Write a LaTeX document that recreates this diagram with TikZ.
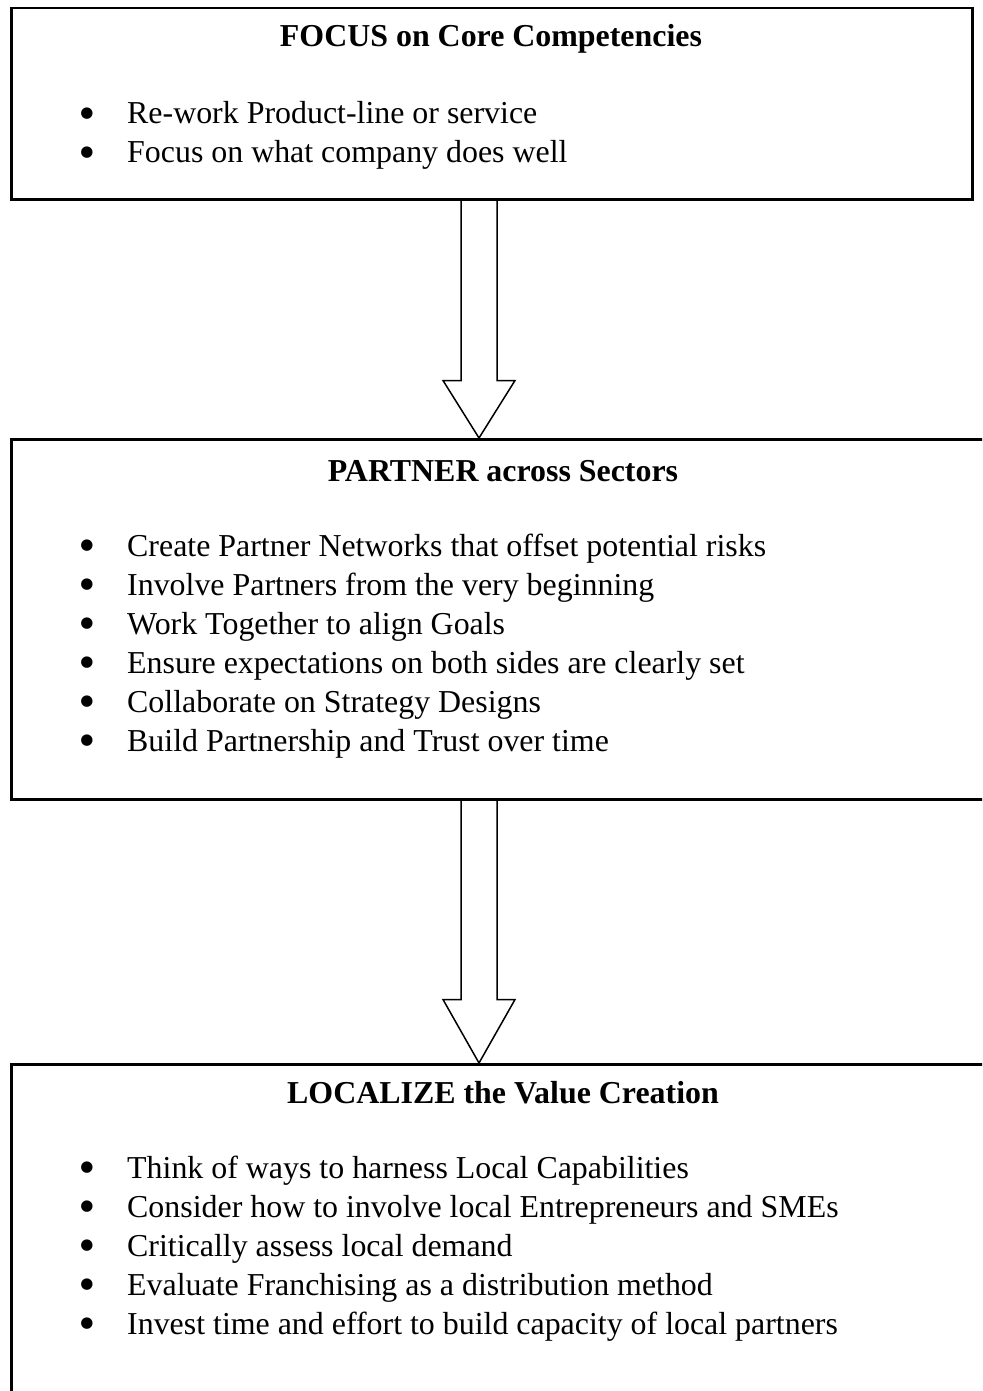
\documentclass[tikz,border=0pt]{standalone}
\usepackage{fontspec}
\setmainfont{Liberation Serif}
\newfontfamily\symfont{DejaVu Sans}
\usetikzlibrary{calc}
\begin{document}
\begin{tikzpicture}[x=1pt,y=-1pt,
  box/.style={draw, line width=2.5pt, rectangle, anchor=north west, inner sep=0pt},
  ttl/.style={anchor=base, font=\fontsize{31.9}{39}\selectfont\bfseries, inner sep=0pt},
  itm/.style={anchor=base west, font=\fontsize{31.9}{39}\selectfont, inner sep=0pt},
  bul/.style={anchor=center, font=\symfont\fontsize{15}{15}\selectfont, inner sep=0pt},
  blockarrow/.style={draw, line width=1.5pt, line join=miter}]
\useasboundingbox (0,0) rectangle (982,1391);
\clip (0,0) rectangle (982,1391);
% boxes
\node[box, minimum width=961pt, minimum height=191pt] (box1) at (10,7) {};
\node[box, minimum width=985pt, minimum height=360pt] (box2) at (10,438) {};
\node[box, minimum width=985pt, minimum height=400pt] (box3) at (10,1063) {};
\coordinate (ax) at (479,0);
% arrows
\draw[blockarrow] ($(box1.south -| ax)+(-18,0)$) -- ++(0,180) -- ++(-18,0)
  -- (box2.north -| ax) -- ($(box1.south -| ax)+(36,180)$) -- ++(-18,0)
  -- ($(box1.south -| ax)+(18,0)$);
\draw[blockarrow] ($(box2.south -| ax)+(-18,0)$) -- ++(0,199) -- ++(-18,0)
  -- (box3.north -| ax) -- ($(box2.south -| ax)+(36,199)$) -- ++(-18,0)
  -- ($(box2.south -| ax)+(18,0)$);
% box 1
\node[ttl] (t1) at (491,47) {FOCUS on Core Competencies};
\node[bul] (b11) at (87,114) {●};
\node[itm] (i11) at (127,124) {Re-work Product-line or service};
\node[bul] (b12) at (87,153) {●};
\node[itm] (i12) at (127,163) {Focus on what company does well};
% box 2
\node[ttl] (t2) at (503,481) {PARTNER across Sectors};
\node[bul] (b21) at (87,546) {●};
\node[itm] (i21) at (127,556) {Create Partner Networks that offset potential risks};
\node[bul] (b22) at (87,585) {●};
\node[itm] (i22) at (127,595) {Involve Partners from the very beginning};
\node[bul] (b23) at (87,624) {●};
\node[itm] (i23) at (127,634) {Work Together to align Goals};
\node[bul] (b24) at (87,663) {●};
\node[itm] (i24) at (127,673) {Ensure expectations on both sides are clearly set};
\node[bul] (b25) at (87,702) {●};
\node[itm] (i25) at (127,712) {Collaborate on Strategy Designs};
\node[bul] (b26) at (87,741) {●};
\node[itm] (i26) at (127,751) {Build Partnership and Trust over time};
% box 3
\node[ttl] (t3) at (503,1103) {LOCALIZE the Value Creation};
\node[bul] (b31) at (87,1168) {●};
\node[itm] (i31) at (127,1178) {Think of ways to harness Local Capabilities};
\node[bul] (b32) at (87,1207) {●};
\node[itm] (i32) at (127,1217) {Consider how to involve local Entrepreneurs and SMEs};
\node[bul] (b33) at (87,1246) {●};
\node[itm] (i33) at (127,1256) {Critically assess local demand};
\node[bul] (b34) at (87,1285) {●};
\node[itm] (i34) at (127,1295) {Evaluate Franchising as a distribution method};
\node[bul] (b35) at (87,1324) {●};
\node[itm] (i35) at (127,1334) {Invest time and effort to build capacity of local partners};
\end{tikzpicture}
\end{document}
